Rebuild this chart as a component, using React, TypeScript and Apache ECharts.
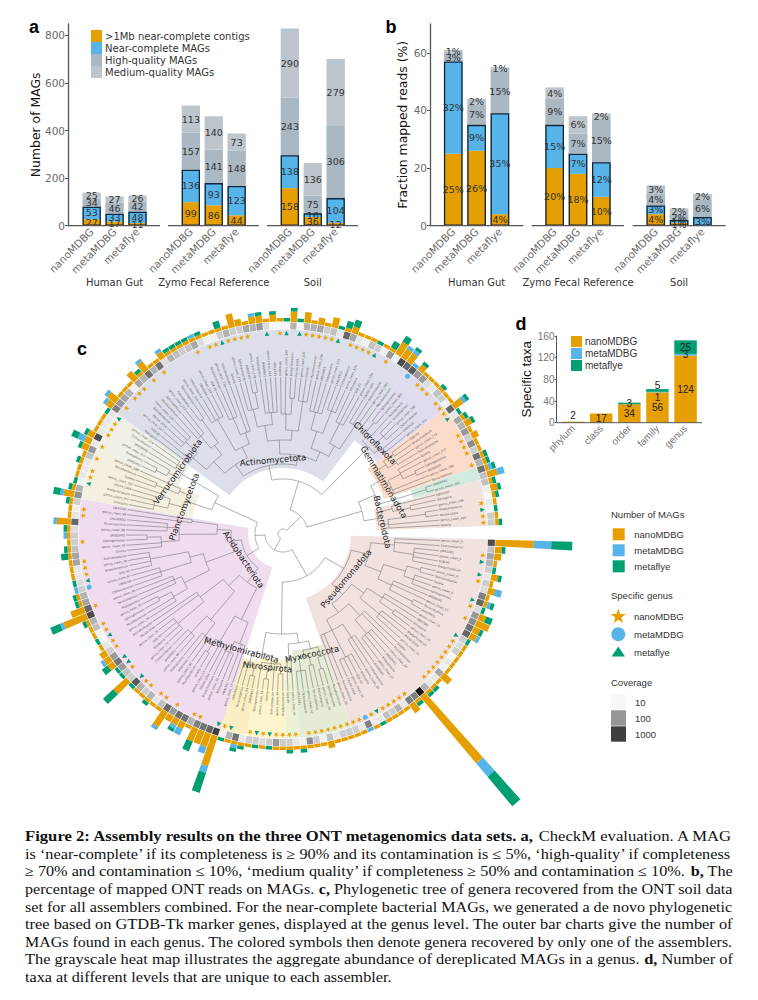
import React, { useEffect, useRef } from "react";
import * as echarts from "echarts";

const ORANGE = "#E69F00", BLUE = "#56B4E9", GREEN = "#009E73", HIGH = "#a9b8c3", MED = "#bcc5cb";
const DJ = '"DejaVu Sans"', LS = '"Liberation Sans"', SERIF = '"Liberation Serif"';

const assemblers = ["nanoMDBG", "metaMDBG", "metaflye"];
const facetNames = ["Human Gut", "Zymo Fecal Reference", "Soil"];
const legendA = [">1Mb near-complete contigs", "Near-complete MAGs", "High-quality MAGs", "Medium-quality MAGs"];

// Panel a: number of MAGs
const aGutContigs = [27, 17, 11], aGutNear = [53, 33, 48], aGutHigh = [34, 46, 42], aGutMed = [25, 27, 26];
const aZymoContigs = [99, 86, 44], aZymoNear = [136, 93, 123], aZymoHigh = [157, 141, 148], aZymoMed = [113, 140, 73];
const aSoilContigs = [158, 36, 12], aSoilNear = [138, 16, 104], aSoilHigh = [243, 75, 306], aSoilMed = [290, 136, 279];
// Panel b: fraction of mapped reads (%)
const bGutContigs = [25, 26, 4], bGutNear = [32, 9, 35], bGutHigh = [3, 7, 15], bGutMed = [1, 2, 1];
const bZymoContigs = [20, 18, 10], bZymoNear = [15, 7, 12], bZymoHigh = [9, 7, 15], bZymoMed = [4, 6, 2];
const bSoilContigs = [4, 1, 0], bSoilNear = [3, 1, 3], bSoilHigh = [4, 2, 6], bSoilMed = [3, 2, 2];
// Panel d: specific taxa
const taxaLevels = ["phylum", "class", "order", "family", "genus"];
const dNano = [2, 17, 34, 56, 124], dMeta = [0, 0, 0, 1, 3], dFly = [0, 0, 3, 5, 25];

// Panel c: one entry per genus, clockwise from the gap on the right
const tipNano = [
  11,2,2,1,0,2,1,2,1,1, 0,2,4,2,2,0,1,1,1,1, 1,3,1,1,1,25,1,3,1,1, 1,1,0,1,0,1,1,1,1,1,
  2,1,1,1,1,1,1,1,1,0, 1,0,1,1,1,1,0,9,4,4, 4,1,2,2,2,5,1,1,1,1, 1,0,5,0,0,2,2,2,1,0,
  1,1,1,7,4,1,1,0,0,1, 1,1,1,1,1,1,1,4,1,1, 1,3,1,0,1,1,1,1,2,2, 2,1,1,1,0,2,3,1,1,1,
  3,1,3,1,1,2,1,1,1,1, 1,1,1,1,1,1,4,2,1,2, 2,1,2,1,0,3,0,3,1,2, 1,3,0,1,2,1,1,1,0,1,
  1,4,3,3,0,2,1,1,1,1, 1,1,3,0,1,2,1,2,1,1, 1,1,1,3,1,2,1,1,0,1, 1,0,0];
const tipMeta = [
  5,0,0,0,0,0,0,2,0,1, 0,0,0,0,1,0,0,0,0,0, 0,0,0,0,0,5,0,0,0,0, 0,0,0,0,1,0,0,0,0,0,
  0,0,0,0,0,0,0,0,0,0, 0,0,0,0,1,0,0,2,2,0, 0,0,2,1,0,1,0,0,0,0, 0,0,0,0,0,0,1,0,0,0,
  0,0,0,1,0,0,0,1,0,0, 0,0,0,0,0,1,0,1,0,0, 0,1,0,0,0,0,0,0,0,2, 0,0,0,0,0,1,1,0,0,0,
  0,0,1,0,0,1,0,0,0,0, 1,0,0,0,0,0,0,0,0,1, 0,0,0,0,0,0,0,0,0,0, 0,0,0,0,0,0,0,0,0,0,
  0,0,1,1,1,0,0,0,0,0, 0,0,1,0,0,0,0,0,0,0, 0,0,1,2,0,0,0,0,0,0, 0,0,0];
const tipFly = [
  6,1,0,0,1,1,0,0,0,1, 1,2,0,1,0,1,0,0,0,0, 0,0,0,1,1,11,1,0,0,0, 0,0,1,0,0,0,0,0,0,0,
  0,0,0,0,1,0,1,0,0,1, 0,1,0,1,1,0,1,6,0,0, 3,0,0,1,0,0,0,0,1,0, 0,1,4,1,1,2,0,0,0,1,
  0,0,1,3,0,1,1,0,1,0, 0,0,2,1,0,0,1,0,0,0, 1,2,1,1,0,0,1,0,1,2, 1,0,0,0,1,0,0,0,0,0,
  0,1,0,0,0,0,1,1,1,1, 0,1,0,0,2,0,0,0,0,0, 1,0,1,0,1,1,1,0,0,0, 0,0,1,2,2,0,0,0,1,0,
  2,2,0,1,0,1,0,0,0,1, 0,0,1,1,1,1,0,0,0,0, 1,1,1,0,1,1,1,0,1,0, 1,0,0];
const tipCoverage = [
  640,38,72,53,28,15,28,20,180,340, 20,100,130,250,340,28,20,28,10,15, 12,72,15,15,53,2500,180,180,15,53,
  28,38,15,14,180,15,28,28,28,15, 38,12,28,130,12,15,28,28,100,28, 20,28,28,15,250,53,12,880,340,250,
  180,53,250,250,100,340,38,15,53,28, 53,470,28,38,100,250,100,28,15,10, 12,38,53,640,340,72,53,28,20,15,
  15,72,72,38,28,28,20,340,15,12, 28,130,53,12,15,15,15,38,100,15, 640,15,15,15,15,180,100,72,53,12,
  72,53,250,53,250,20,53,38,28,38, 72,20,12,12,28,53,28,28,72,53, 100,20,10,10,10,53,10,53,53,72,
  28,38,15,340,72,15,12,38,28,12, 100,12,640,340,470,100,100,20,15,38, 28,12,340,15,72,53,100,28,130,28,
  250,53,250,38,38,12,10,15,10,28, 28,0,0];
const starTips = [2,6,10,12,16,17,18,19,20,21,22,23,27,28,29,30,31,33,35,36,37,38,39,40,41,42,43,45,46,47,48,50,52,56,60,61,64,66,67,69,70,73,77,78,80,81,84,89,90,91,94,98,99,104,105,107,109,111,112,113,116,118,119,120,122,124,130,132,133,135,136,137,138,143,147,148,149,150,151,154,155,156,157,160,166,167,168,170,171,172,176,177,178,179,181,187,189,190];
const circleTips = [34, 87, 164];
const triTips = [3,5,9,15,32,49,51,55,57,71,74,75,79,88,103,114,134,141,144,146,152,158,173,188];

// Clades: first and last genus, inner radius of the shaded wedge, colour
const cladeFirst = [0, 37, 45, 47, 53, 57, 101, 109, 115, 164, 172, 182, 184];
const cladeLast = [36, 44, 46, 52, 56, 100, 108, 114, 163, 171, 181, 183, 190];
const cladeInner = [68, 117, 125, 126, 130, 35, 92, 115, 66, 118, 107, 135, 94];
const cladeColors = ["#f1e1df", "#e5ecd5", "#eef2d5", "#fbf4cc", "#f9efc2", "#efdcee", "#f5efdf", "#f1f0e6", "#dcdfea", "#e0dcee", "#fbdccb", "#d3ebdf", "#f2e3dd"];

// Tree topology: [node radius, ...children]; a bare number is that many leaves on the node
type T = (number | T)[];
const pseudo: T = [70,
  [88, [112, 2, [132, 3, 1]], [105, [128, [142, 2], [138, 3]], [120, 2, [146, 2]]]],
  [85, [100, [118, 2, [135, 2]], [125, 3]], [96, [112, 2, [130, 2, 2]], [108, [124, 3], [120, [138, 2, 2]], 2]]]];
const myxo: T = [118, [128, 1, [140, 2]], [124, [134, 2], [138, 1, 2]]];
const minorClade: T = [125, 1, 1];
const nitro: T = [130, [140, 2], [136, 1, [146, 2]], 1];
const methylo: T = [135, [145, 2], 2];
const acido: T = [42,
  [60, [95, [118, 2, [130, 3]], [108, [125, 2, [140, 2]]]], [75, [112, [128, 3], [135, 2, 1]], [104, [122, [138, 2, 2]], 2]]],
  [52, [82, [110, [126, 2, [140, 2]], [118, 3]], [96, [128, 3], [120, [135, 2, 2]]]], [66, [104, [122, 2, [136, 2]], [116, 3]], [92, 2]]]];
const plancto: T = [100, [118, [132, 2, 1], [128, 2]], [112, [136, 2], 1]];
const verruco: T = [118, [130, [142, 2], 1], [126, 2, 1]];
const actino: T = [70,
  [84, [100, [118, 2, [134, 2, 2]], [112, [128, 3], [124, [140, 2]]]], [96, [116, [132, 2, 2]], [108, [126, 3], 2]]],
  [80, [94, [110, [128, 2, [144, 1, 1]], [122, 4]], [104, [120, 2, [136, 2]], [118, [134, 3]]]], [90, [108, [126, 2, 2], [116, [132, 2, 1]]], [102, [124, 3], [114, [130, 2, 2]]]]]];
const chloro: T = [122, [132, [144, 2], 1], [128, [140, 2, 1], 2]];
const gemma: T = [110, [124, [136, 2], [134, 2]], [118, [132, 2, [146, 1, 1]], 2]];
const tealClade: T = [137, [150, 1, 1]];
const bactero: T = [96, [112, 1, [130, 2]], [106, [126, [144, 1, 1]], 1, 1]];
const treeRoot: T = [5,
  [18, [48, pseudo, [100, [110, myxo, minorClade], [122, nitro, methylo]]], [28, acido, [75, plancto, verruco]]],
  [25, [55, actino, chloro], [82, [100, gemma, tealClade], bactero]]];

// Tip names are too small to read in the reference; these stand in for them.
const tipStems = ["JAAGRR01", "Chthoniobacter", "UBA1581", "Nitrospira", "SG8-40", "Bradyrhizobium", "PALSA-1004", "Solirubrobacter", "Gaiella", "Mycobacterium", "Sphingomonas", "JADJOH01", "Pedosphaera", "Terracidiphilus"];
const tipNames = tipNano.slice(0, 191).map((_, i) => (i % 3 === 0 ? "genus_clean_" + i : tipStems[i % tipStems.length]));

const phylumNames = ["Actinomycetota", "Verrucomicrobiota", "Planctomycetota", "Acidobacteriota", "Methylomirabilota", "Nitrospirota", "Myxococcota", "Pseudomonadota", "Bacteroidota", "Gemmatimonadota", "Chloroflexota"];
const phylumX = [273, 177.5, 184, 243.5, 241.5, 267.5, 312, 346, 382.5, 384, 375];
const phylumY = [460, 471.7, 506.7, 559.5, 650, 667, 654, 578.5, 522, 482, 443];
const phylumRot = [5, 54.6, 69.4, -56, -15.3, -6, 12, 50, -77, -59, -45];

// Caption: [text, bold] segments per line
const captionLines: [string, boolean][][] = [
  [["Figure 2: Assembly results on the three ONT metagenomics data sets. a,", true], [" CheckM evaluation. A MAG", false]],
  [["is ‘near-complete’ if its completeness is ≥ 90% and its contamination is ≤ 5%, ‘high-quality’ if completeness", false]],
  [["≥ 70% and contamination ≤ 10%, ‘medium quality’ if completeness ≥ 50% and contamination ≤ 10%. ", false], ["b,", true], [" The", false]],
  [["percentage of mapped ONT reads on MAGs. ", false], ["c,", true], [" Phylogenetic tree of genera recovered from the ONT soil data", false]],
  [["set for all assemblers combined. For the near-complete bacterial MAGs, we generated a de novo phylogenetic", false]],
  [["tree based on GTDB-Tk marker genes, displayed at the genus level. The outer bar charts give the number of", false]],
  [["MAGs found in each genus. The colored symbols then denote genera recovered by only one of the assemblers.", false]],
  [["The grayscale heat map illustrates the aggregate abundance of dereplicated MAGs in a genus. ", false], ["d,", true], [" Number of", false]],
  [["taxa at different levels that are unique to each assembler.", false]],
];

const TIP_R = 157, N_TIPS = 193, START = 358.53;
const STAR = "path://M50 0 L61 35 L98 35 L68 57 L79 91 L50 70 L21 91 L32 57 L2 35 L39 35 Z";

function coverageGray(c: number) {
  const t = Math.log10(Math.max(c, 10));
  const d = Math.min(0.95, 0.03 + 0.37 * (t - 1));
  const g = Math.round(255 * (1 - d));
  return `rgb(${g},${g},${g})`;
}

function treeSegments(root: T) {
  const segs: number[][] = [];
  let next = 0;
  const walk = (node: T): number => {
    const r = node[0] as number;
    const ts: number[] = [];
    node.slice(1).forEach((c) => {
      if (typeof c === "number") {
        for (let i = 0; i < c; i++) {
          const t = next++ + 0.5;
          segs.push([r, t, TIP_R, t]);
          ts.push(t);
        }
      } else {
        const t = walk(c);
        segs.push([r, t, c[0] as number, t]);
        ts.push(t);
      }
    });
    segs.push([r, ts[0], r, ts[ts.length - 1]]);
    return (ts[0] + ts[ts.length - 1]) / 2;
  };
  walk(root);
  return segs;
}

function buildCaption() {
  const ctx = document.createElement("canvas").getContext("2d") as CanvasRenderingContext2D;
  const size = 14.5, left = 25, right = 733;
  const font = (b: boolean) => `${b ? "bold " : ""}${size}px ${SERIF}`;
  const out: any[] = [];
  captionLines.forEach((segs, i) => {
    const widths = segs.map(([t, b]) => { ctx.font = font(b); return ctx.measureText(t).width; });
    const total = widths.reduce((a, b) => a + b, 0);
    const s = i === captionLines.length - 1 ? 367 / total : (right - left) / total;
    let x = left;
    segs.forEach(([t, b], j) => {
      out.push({ type: "text", x, y: 836 + 17.6 * i, scaleX: s, z: 20,
        style: { text: t, font: font(b), fill: "#111", align: "left", verticalAlign: "middle" } });
      x += widths[j] * s;
    });
  });
  return out;
}

function legendC() {
  const el: any[] = [];
  const txt = (text: string, x: number, y: number) => ({ type: "text", x, y, z: 20,
    style: { text, fontSize: 9.5, fontFamily: LS, fill: "#333", align: "left", verticalAlign: "middle" } });
  el.push(txt("Number of MAGs", 611, 514), txt("Specific genus", 611, 595), txt("Coverage", 611, 682));
  assemblers.forEach((a, i) => {
    el.push({ type: "rect", z: 20, shape: { x: 612.7, y: 528.3 + 16 * i, width: 12, height: 12 }, style: { fill: [ORANGE, BLUE, GREEN][i] } });
    el.push(txt(a, 634.3, 534.3 + 16 * i));
    el.push(txt(a, 634, 616 + 18 * i));
  });
  const starPts: number[][] = [];
  for (let i = 0; i < 10; i++) {
    const a = -Math.PI / 2 + (i * Math.PI) / 5, r = i % 2 ? 3.2 : 8;
    starPts.push([618.3 + r * Math.cos(a), 616.5 + r * Math.sin(a)]);
  }
  el.push({ type: "polygon", z: 20, shape: { points: starPts }, style: { fill: ORANGE } });
  el.push({ type: "circle", z: 20, shape: { cx: 618.3, cy: 634.3, r: 7 }, style: { fill: BLUE } });
  el.push({ type: "polygon", z: 20, shape: { points: [[618.3, 646.5], [625, 656.5], [611.6, 656.5]] }, style: { fill: GREEN } });
  ["10", "100", "1000"].forEach((c, i) => {
    el.push({ type: "rect", z: 20, shape: { x: 611, y: 694.3 + 16 * i, width: 15, height: 15.4 }, style: { fill: ["#f7f7f7", "#969696", "#3f3f3f"][i] } });
    el.push(txt(c, 635, 702 + 16 * i));
  });
  return el;
}

export default function App() {
  const ref = useRef<HTMLDivElement>(null);
  useEffect(() => {
    if (!ref.current) return;
    const chart = echarts.init(ref.current, undefined, { renderer: "svg" });

    const grids: any[] = [], xAxes: any[] = [], yAxes: any[] = [], series: any[] = [];

    const addFacet = (g: { left: number; width: number; top: number; height: number }, name: string, max: number, interval: number,
      yShow: boolean, yName: string, yOffset: number, yGap: number, vals: number[][], suffix: string) => {
      const idx = grids.length;
      grids.push({ ...g });
      xAxes.push({
        gridIndex: idx, type: "category", data: assemblers, name, nameLocation: "middle", nameGap: 49,
        nameTextStyle: { fontFamily: DJ, fontSize: 10, color: "#333" },
        axisLine: { show: false }, axisTick: { length: 2, lineStyle: { color: "#555" } },
        axisLabel: { rotate: 45, interval: 0, margin: 4, color: "#6a6a6a", fontFamily: DJ, fontSize: 10.4 },
      });
      yAxes.push({
        gridIndex: idx, type: "value", min: 0, max, interval, show: yShow, offset: yOffset, name: yName, nameLocation: "middle", nameGap: yGap,
        nameTextStyle: { fontFamily: DJ, fontSize: 12.4, color: "#111" },
        axisLine: { show: true, lineStyle: { color: "#555", width: 1.3 } }, axisTick: { show: true, length: 3, lineStyle: { color: "#555" } },
        axisLabel: { color: "#6a6a6a", fontFamily: DJ, fontSize: 10.5, margin: 3, showMaxLabel: false }, splitLine: { show: false },
      });
      vals.forEach((v, i) => {
        series.push({
          type: "bar", name: legendA[i], xAxisIndex: idx, yAxisIndex: idx, stack: "s" + idx, barWidth: "80%", barGap: "-100%", z: 2,
          itemStyle: { color: [ORANGE, BLUE, HIGH, MED][i] }, data: v,
          label: { show: true, position: "inside", fontFamily: DJ, fontSize: 9.5, color: "#333",
            formatter: (p: any) => (p.value > 0 ? p.value + suffix : "") },
        });
      });
      series.push({
        type: "bar", name: "outline", xAxisIndex: idx, yAxisIndex: idx, barWidth: "80%", barGap: "-100%", z: 3, silent: true,
        itemStyle: { color: "transparent", borderColor: "#12263a", borderWidth: 1.3 },
        data: vals[0].map((c, i) => c + vals[1][i]),
      });
    };

    const aG = { top: 24, height: 201.7, width: 68.7 };
    addFacet({ ...aG, left: 80.25 }, facetNames[0], 848, 200, true, "Number of MAGs", 12.2, 23, [aGutContigs, aGutNear, aGutHigh, aGutMed], "");
    addFacet({ ...aG, left: 179.4 }, facetNames[1], 848, 200, false, "", 0, 0, [aZymoContigs, aZymoNear, aZymoHigh, aZymoMed], "");
    addFacet({ ...aG, left: 278.4 }, facetNames[2], 848, 200, false, "", 0, 0, [aSoilContigs, aSoilNear, aSoilHigh, aSoilMed], "");
    const bG = { top: 24, height: 201.7, width: 70 };
    addFacet({ ...bG, left: 441.6 }, facetNames[0], 70, 20, true, "Fraction mapped reads (%)", 11.6, 22, [bGutContigs, bGutNear, bGutHigh, bGutMed], "%");
    addFacet({ ...bG, left: 543 }, facetNames[1], 70, 20, false, "", 0, 0, [bZymoContigs, bZymoNear, bZymoHigh, bZymoMed], "%");
    addFacet({ ...bG, left: 644.1 }, facetNames[2], 70, 20, false, "", 0, 0, [bSoilContigs, bSoilNear, bSoilHigh, bSoilMed], "%");

    // Panel d
    const dIdx = grids.length;
    grids.push({ left: 559.1, width: 140.5, top: 336, height: 86.7 });
    xAxes.push({ gridIndex: dIdx, type: "category", data: taxaLevels, axisLine: { show: false }, axisTick: { length: 2, lineStyle: { color: "#555" } },
      axisLabel: { rotate: 45, interval: 0, margin: 4, color: "#777", fontFamily: LS, fontSize: 10 } });
    yAxes.push({ gridIndex: dIdx, type: "value", min: 0, max: 160, interval: 40, offset: 2.4, name: "Specific taxa", nameLocation: "middle", nameGap: 20,
      nameTextStyle: { fontFamily: LS, fontSize: 13.5, color: "#111" },
      axisLine: { show: true, lineStyle: { color: "#555" } }, axisTick: { show: true, length: 2, lineStyle: { color: "#555" } },
      axisLabel: { color: "#777", fontFamily: LS, fontSize: 10.2, margin: 2 }, splitLine: { show: false } });
    const dOffsets = [[0, 0], [0, 5], [0, -5]];
    [dNano, dMeta, dFly].forEach((v, i) => {
      series.push({ type: "bar", name: assemblers[i], xAxisIndex: dIdx, yAxisIndex: dIdx, stack: "d", barWidth: "80%", z: 2,
        itemStyle: { color: [ORANGE, BLUE, GREEN][i] },
        data: v.map((x, k) => {
          if (i === 0 && k === 0) return { value: x, label: { position: "top", distance: 1 } };
          if (k === 3) return { value: x, label: { offset: dOffsets[i] } };
          return x;
        }),
        label: { show: true, position: "inside", fontFamily: LS, fontSize: 10, color: "#222",
          formatter: (p: any) => (p.value > 0 ? String(p.value) : "") } });
    });

    // Panel c
    const tipIndex = tipNano.map((_, i) => String(i));
    const clades = cladeFirst.map((f, i) => [cladeInner[i], f, cladeLast[i] + 1]);
    const angleOf = (api: any, params: any, t: number) => {
      const p = api.coord([100, t]);
      return Math.atan2(p[1] - params.coordSys.cy, p[0] - params.coordSys.cx);
    };
    series.push({
      type: "custom", name: "clades", coordinateSystem: "polar", polarIndex: 1, z: 1, silent: true, data: clades, clip: false,
      renderItem: (params: any, api: any) => {
        const a0 = angleOf(api, params, api.value(1));
        let a1 = angleOf(api, params, api.value(2));
        if (a1 < a0) a1 += Math.PI * 2;
        return { type: "sector", shape: { cx: params.coordSys.cx, cy: params.coordSys.cy, r0: api.value(0), r: 204.5, startAngle: a0, endAngle: a1, clockwise: true },
          style: { fill: cladeColors[params.dataIndex] } };
      },
    });
    series.push({
      type: "custom", name: "tree", coordinateSystem: "polar", polarIndex: 1, z: 2, silent: true, data: treeSegments(treeRoot), clip: false,
      renderItem: (_: any, api: any) => {
        const r1 = api.value(0), t1 = api.value(1), r2 = api.value(2), t2 = api.value(3);
        const points: number[][] = [];
        if (r1 === r2) {
          for (let t = t1; t < t2; t += 0.5) points.push(api.coord([r1, t]));
          points.push(api.coord([r1, t2]));
        } else {
          points.push(api.coord([r1, t1]), api.coord([r2, t2]));
        }
        return { type: "polyline", shape: { points }, style: { stroke: "#777", lineWidth: 0.6, fill: "none" } };
      },
    });
    series.push({
      type: "custom", name: "tips", coordinateSystem: "polar", polarIndex: 1, z: 3, silent: true, clip: false,
      data: tipNames.map((_, i) => [TIP_R + 1, i + 0.5]),
      renderItem: (params: any, api: any) => {
        const t = api.value(1);
        const p = api.coord([TIP_R + 1, t]);
        const a = Math.atan2(p[1] - params.coordSys.cy, p[0] - params.coordSys.cx);
        const leftSide = Math.cos(a) < 0;
        return { type: "text", x: p[0], y: p[1], rotation: leftSide ? Math.PI - a : -a,
          style: { text: tipNames[params.dataIndex], fontSize: 3, fontFamily: DJ, fill: "#555", align: leftSide ? "right" : "left", verticalAlign: "middle" } };
      },
    });
    series.push({
      type: "custom", name: "coverage", coordinateSystem: "polar", polarIndex: 1, z: 3, silent: true, clip: false,
      data: tipCoverage.map((c, i) => [c, i]).filter((d) => d[0] > 0),
      renderItem: (params: any, api: any) => {
        const t = api.value(1);
        const a0 = angleOf(api, params, t + 0.04);
        let a1 = angleOf(api, params, t + 0.96);
        if (a1 < a0) a1 += Math.PI * 2;
        return { type: "sector", shape: { cx: params.coordSys.cx, cy: params.coordSys.cy, r0: 205, r: 212, startAngle: a0, endAngle: a1, clockwise: true },
          style: { fill: coverageGray(api.value(0)) } };
      },
    });
    const symRot = (v: number[]) => -((START < 0 ? 0 : 360 - START) + (v[1] * 360) / N_TIPS) - 90;
    const addSym = (tips: number[], symbol: string, size: number, color: string, name: string) => {
      series.push({ type: "scatter", name, coordinateSystem: "polar", polarIndex: 1, z: 4, silent: true, symbol, symbolSize: size,
        symbolRotate: (v: number[]) => symRot(v), itemStyle: { color, opacity: 1 },
        data: tips.map((t) => [201, t + 0.5]) });
    };
    addSym(starTips, STAR, 5.5, ORANGE, "star");
    addSym(circleTips, "circle", 5, BLUE, "circle");
    addSym(triTips, "triangle", 4.5, GREEN, "triangle");
    [tipNano, tipMeta, tipFly].forEach((v, i) => {
      series.push({ type: "bar", name: assemblers[i], coordinateSystem: "polar", polarIndex: 0, stack: "tips", barCategoryGap: "8%", z: 3, silent: true,
        itemStyle: { color: [ORANGE, BLUE, GREEN][i] }, data: v });
    });

    const graphic: any[] = [];
    [[68, 160], [168, 259], [267, 358], [430, 523.3], [531.7, 624], [632.7, 725.7]].forEach(([a, b]) =>
      graphic.push({ type: "line", z: 5, shape: { x1: a, y1: 225.7, x2: b, y2: 225.7 }, style: { stroke: "#555", lineWidth: 1.3 } }));
    graphic.push({ type: "line", z: 5, shape: { x1: 556.7, y1: 422.7, x2: 702, y2: 422.7 }, style: { stroke: "#555", lineWidth: 1 } });
    [["a", 34, 27], ["b", 391, 27], ["c", 82, 349], ["d", 521, 324]].forEach(([t, x, y]) =>
      graphic.push({ type: "text", x, y, z: 20, style: { text: t, fontSize: 18, fontWeight: "bold", fontFamily: LS, fill: "#000", align: "center", verticalAlign: "middle" } }));
    phylumNames.forEach((n, i) =>
      graphic.push({ type: "text", x: phylumX[i], y: phylumY[i], rotation: (phylumRot[i] * Math.PI) / 180, z: 20,
        style: { text: n, fontSize: 8.5, fontFamily: DJ, fill: "#222", align: "center", verticalAlign: "middle" } }));
    graphic.push(...legendC(), ...buildCaption());

    chart.setOption({
      animation: false,
      backgroundColor: "#fff",
      grid: grids,
      xAxis: xAxes,
      yAxis: yAxes,
      polar: [
        { center: [283, 534], radius: [212.5, 359.5] },
        { center: [283, 534], radius: [0, 360] },
      ],
      radiusAxis: [
        { polarIndex: 0, type: "value", min: 0, max: 42, show: false },
        { polarIndex: 1, type: "value", min: 0, max: 360, show: false },
      ],
      angleAxis: [
        { polarIndex: 0, type: "category", data: tipIndex, startAngle: START, show: false },
        { polarIndex: 1, type: "value", min: 0, max: N_TIPS, startAngle: START, show: false },
      ],
      legend: [
        { data: legendA, left: 91, top: 30, orient: "vertical", padding: 0, itemGap: 0, itemWidth: 11, itemHeight: 12, icon: "rect", selectedMode: false,
          textStyle: { fontFamily: DJ, fontSize: 10, color: "#333", padding: [0, 0, 0, -2] } },
        { data: assemblers, left: 571, top: 336, orient: "vertical", padding: 0, itemGap: 1, itemWidth: 11, itemHeight: 11, icon: "rect", selectedMode: false,
          textStyle: { fontFamily: LS, fontSize: 10, color: "#333", padding: [0, 0, 0, -2] } },
      ],
      graphic: { elements: graphic },
      series,
    });
    return () => chart.dispose();
  }, []);
  return <div ref={ref} style={{ position: "absolute", left: 0, top: 0, width: 758, height: 1000 }} />;
}
